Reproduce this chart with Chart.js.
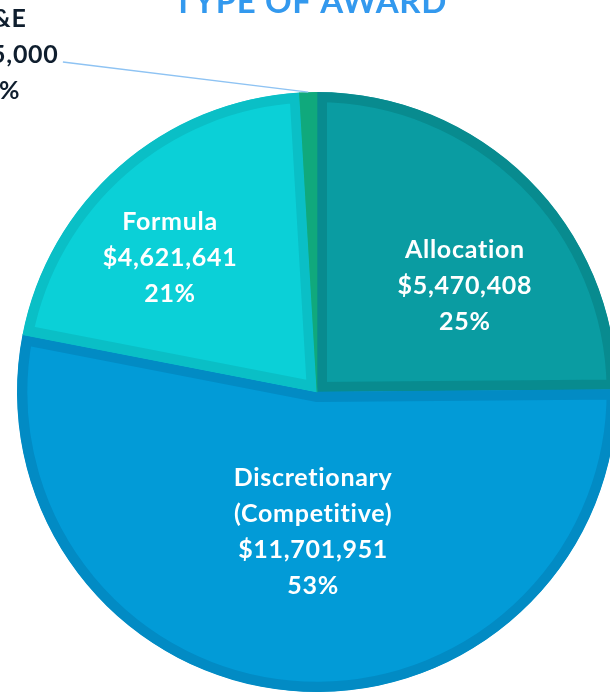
<!DOCTYPE html>
<html>
<head>
<meta charset="utf-8">
<script src="https://cdn.jsdelivr.net/npm/chart.js@4/dist/chart.umd.min.js"></script>
<style>
html,body{margin:0;padding:0;background:#fff;overflow:hidden;width:610px;height:692px;}
#wrap{position:absolute;left:0;top:0;width:700px;height:800px;}
</style>
</head>
<body>
<div id="wrap"><canvas id="c" width="700" height="800"></canvas></div>
<script>
// ---- data ----
const categories = [["Allocation"], ["Discretionary", "(Competitive)"], ["Formula"], ["E&E"]];
const awardValues = [5470408, 11701951, 4621641, 205000];
const chartTitle = "TYPE OF AWARD";

const fillColors = ["#0a9ca2", "#029bd7", "#0bd0d7", "#13bb8b"];
const borderColors = ["#088b8f", "#028bc4", "#0abfc6", "#10a97c"];
const labelColors = ["#ffffff", "#ffffff", "#ffffff", "#0f1e2e"];

const total = awardValues.reduce((a, b) => a + b, 0);
const fmt = v => "$" + v.toLocaleString("en-US");

const labelPlugin = {
  id: "labelPlugin",
  afterDraw(chart, args, opts) {
    const ctx = chart.ctx;
    const meta = chart.getDatasetMeta(0);
    const arc0 = meta.data[0];
    const cx = arc0.x, cy = arc0.y, r = arc0.outerRadius;
    ctx.save();
    // title
    ctx.font = "bold 33px Lato";
    ctx.letterSpacing = "0.6px";
    ctx.fillStyle = "#3399ee";
    ctx.textAlign = "center";
    ctx.textBaseline = "alphabetic";
    ctx.fillText(chartTitle, cx + opts.titleDx * r, 13);

    // leader line for small slice
    const small = meta.data[3];
    const mid = (small.startAngle + small.endAngle) / 2;
    const ex = cx + Math.cos(mid) * r, ey = cy + Math.sin(mid) * r;
    ctx.strokeStyle = "#8ec3f3";
    ctx.lineWidth = 1.5;
    ctx.beginPath();
    ctx.moveTo(cx + opts.leaderStart[0] * r, cy + opts.leaderStart[1] * r);
    ctx.lineTo(ex, ey);
    ctx.stroke();

    ctx.font = "bold 25px Lato";
    ctx.letterSpacing = "0.7px";
    ctx.textBaseline = "middle";
    const lh = 36;
    categories.forEach((name, i) => {
      const pct = Math.round(awardValues[i] / total * 100) + "%";
      const lines = [...name, fmt(awardValues[i]), pct];
      const px = cx + opts.pos[i][0] * r, py = cy + opts.pos[i][1] * r;
      ctx.fillStyle = labelColors[i];
      const top = py - (lines.length - 1) * lh / 2;
      lines.forEach((t, k) => ctx.fillText(t, px, top + k * lh));
    });
    ctx.restore();
  }
};

new Chart(document.getElementById("c"), {
  type: "pie",
  data: {
    labels: categories.map(c => c.join(" ")),
    datasets: [{
      data: awardValues,
      backgroundColor: fillColors,
      borderColor: borderColors,
      borderWidth: 10,
      borderAlign: "inner"
    }]
  },
  options: {
    responsive: false,
    animation: false,
    layout: { padding: { left: 17, top: 92, right: 83, bottom: 108 } },
    plugins: {
      legend: { display: false },
      tooltip: { enabled: false },
      title: { display: false },
      labelPlugin: {
        titleDx: -0.023,
        leaderStart: [-0.847, -1.1],
        pos: [[0.493, -0.353], [-0.013, 0.467], [-0.49, -0.447], [-1.05, -1.123]]
      }
    }
  },
  plugins: [labelPlugin]
});
</script>
</body>
</html>
